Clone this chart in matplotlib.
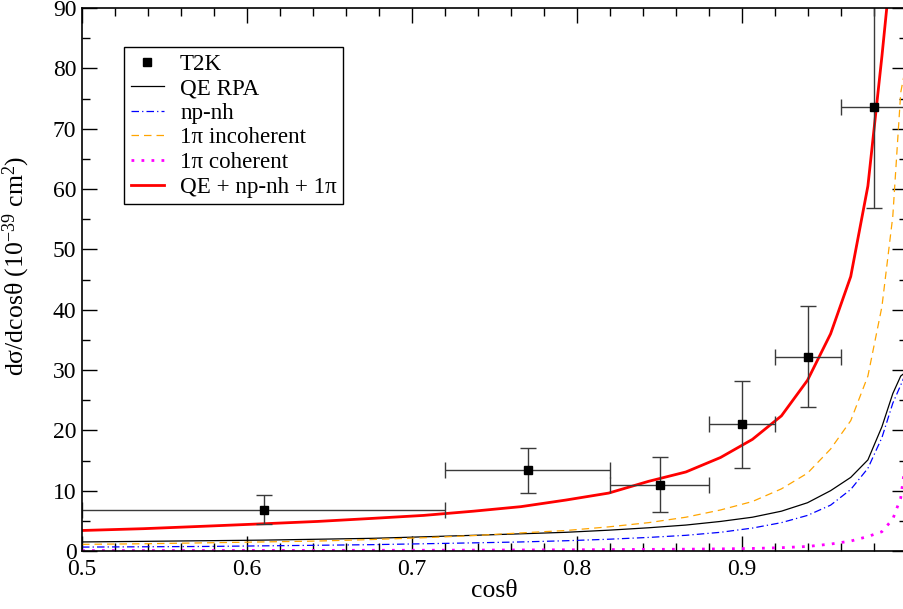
import numpy as np
import matplotlib
matplotlib.use('Agg')
import matplotlib.pyplot as plt
from matplotlib.lines import Line2D
from matplotlib.ticker import MultipleLocator

plt.rcParams['font.family'] = ['Liberation Serif', 'DejaVu Serif']
plt.rcParams['mathtext.fontset'] = 'custom'
plt.rcParams['mathtext.rm'] = 'Liberation Serif'
plt.rcParams['mathtext.it'] = 'Liberation Serif:italic'

# model grid in cos(theta), 2.5 degree steps from 60 deg down
cos_theta = [0.5000, 0.5373, 0.5736, 0.6088, 0.6428, 0.6756, 0.7071, 0.7373,
             0.7660, 0.7934, 0.8192, 0.8434, 0.8660, 0.8870, 0.9063, 0.9239,
             0.9397, 0.9537, 0.9659, 0.9763, 0.9848, 0.9914, 0.9962, 0.9990]

qe_rpa = [1.5, 1.6, 1.7, 1.8, 1.95, 2.1, 2.35, 2.6, 2.85, 3.1, 3.45, 3.85,
          4.3, 4.9, 5.6, 6.6, 8.0, 10.0, 12.2, 15.1, 20.6, 26.1, 29.0, 29.6]
npnh = [0.65, 0.7, 0.75, 0.85, 0.95, 1.05, 1.2, 1.35, 1.5, 1.7, 1.95, 2.25,
        2.6, 3.1, 3.8, 4.7, 5.9, 7.6, 10.2, 13.7, 18.8, 24.5, 27.5, 29.3]
pi_incoh = [1.1, 1.2, 1.35, 1.5, 1.65, 1.9, 2.2, 2.55, 3.0, 3.4, 4.0, 4.7,
            5.6, 6.8, 8.2, 10.3, 12.9, 16.9, 21.6, 29.0, 40.5, 55.5, 76.0, 80.0]
pi_coh = [0.08, 0.08, 0.09, 0.1, 0.1, 0.12, 0.13, 0.15, 0.17, 0.2, 0.23, 0.27,
          0.3, 0.35, 0.42, 0.55, 0.75, 1.15, 1.65, 2.4, 3.2, 5.3, 8.8, 14.5]
total = [3.4, 3.7, 4.1, 4.5, 4.9, 5.4, 5.9, 6.6, 7.35, 8.45, 9.6, 11.55,
         13.1, 15.5, 18.5, 22.4, 28.3, 36.0, 45.5, 60.5, 82.0, 100.0]

# T2K data
t2k_x = [0.61, 0.77, 0.85, 0.90, 0.94, 0.98]
t2k_y = [6.8, 13.4, 10.9, 21.0, 32.2, 73.6]
t2k_xlo = [0.50, 0.72, 0.82, 0.88, 0.92, 0.96]
t2k_xhi = [0.72, 0.82, 0.88, 0.92, 0.96, 1.00]
t2k_ylo = [4.4, 9.6, 6.4, 13.8, 23.8, 56.9]
t2k_yhi = [9.3, 17.0, 15.5, 28.2, 40.6, 100.0]

fig = plt.figure(figsize=(9.04, 6.09), dpi=100)
ax = fig.add_axes([82 / 904, 58 / 609, 825 / 904, 543 / 609])

ax.plot(cos_theta, qe_rpa, color='black', lw=0.9)
ax.plot(cos_theta, npnh, color='blue', lw=0.9, ls=(0, (6, 2.5, 1, 2.5)))
ax.plot(cos_theta, pi_incoh, color='orange', lw=0.9, ls=(0, (6, 4)))
ax.plot(cos_theta, pi_coh, color='magenta', lw=2.0, ls=(0, (1, 2.6)))
ax.plot(cos_theta[:len(total)], total, color='red', lw=2.0)

tx = np.array(t2k_x)
ty = np.array(t2k_y)
xerr = [tx - np.array(t2k_xlo), np.array(t2k_xhi) - tx]
yerr = [ty - np.array(t2k_ylo), np.array(t2k_yhi) - ty]
ax.errorbar(tx, ty, xerr=xerr, yerr=yerr, fmt='s', color='black', ms=5.5,
            ecolor='#3a3a3a', elinewidth=1.0, capsize=5.5, capthick=1.0)

ax.set_xlim(0.5, 1.0)
ax.set_ylim(0, 90)
ax.xaxis.set_major_locator(MultipleLocator(0.1))
ax.xaxis.set_minor_locator(MultipleLocator(0.02))
ax.yaxis.set_major_locator(MultipleLocator(10))
ax.yaxis.set_minor_locator(MultipleLocator(5))
ax.set_xticks([0.5, 0.6, 0.7, 0.8, 0.9])
ax.set_xticklabels(['0.5', '0.6', '0.7', '0.8', '0.9'])
ax.tick_params(which='both', direction='in', top=True, right=True, labelsize=17, width=1)
ax.tick_params(which='major', length=11)
ax.tick_params(axis='x', which='major', pad=5.5)
ax.tick_params(axis='y', which='major', pad=4)
ax.tick_params(which='minor', length=5.5)
for s in ax.spines.values():
    s.set_linewidth(1.2)

ax.set_xlabel('cosθ', fontsize=18.5, labelpad=0)
ax.set_ylabel('dσ/dcosθ (10$^{-39}$ cm$^{2}$)', fontsize=18.5)
ax.yaxis.set_label_coords(-0.06, 0.526)

handles = [
    Line2D([], [], ls='none', marker='s', color='black', ms=5.5),
    Line2D([], [], color='black', lw=0.9),
    Line2D([], [], color='blue', lw=0.9, ls=(0, (6, 2.5, 1, 2.5))),
    Line2D([], [], color='orange', lw=0.9, ls=(0, (6, 4))),
    Line2D([], [], color='magenta', lw=2.0, ls=(0, (1, 2.6))),
    Line2D([], [], color='red', lw=2.0),
]
labels = ['T2K', 'QE RPA', 'np-nh', '1π incoherent', '1π coherent', 'QE + np-nh + 1π']
leg = ax.legend(handles, labels, loc='upper left', bbox_to_anchor=(0.051, 0.928),
                borderaxespad=0, fontsize=16.6, handlelength=1.45, handletextpad=0.7,
                labelspacing=0.15, borderpad=0.28, fancybox=False, framealpha=1)
leg.get_frame().set_edgecolor('black')
leg.get_frame().set_linewidth(1.0)

fig.savefig('out.png', dpi=100)
